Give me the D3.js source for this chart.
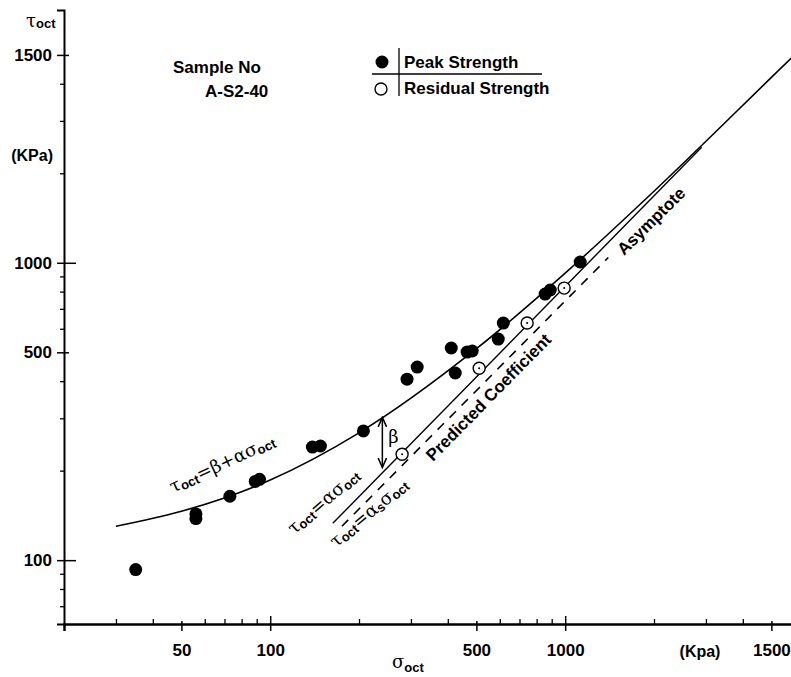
<!DOCTYPE html>
<html>
<head>
<meta charset="utf-8">
<script src="https://cdn.jsdelivr.net/npm/d3@7"></script>
<style>
  body { margin: 0; background: #fff; }
  svg { display: block; }
  text { font-family: "Liberation Sans", Arial, sans-serif; font-weight: bold; fill: #000; }
  .greek { font-family: "DejaVu Serif", serif; font-weight: normal; }
  .axis path, .axis line { stroke: #000; }
</style>
</head>
<body>
<div id="chart"></div>
<script>
// peak strength points (filled)
const peakSigma = [35, 56, 56, 73, 89, 92, 139, 148, 207, 291, 315, 411, 424, 465, 484, 593, 617, 855, 890, 1124];
const peakTau   = [93, 143, 138, 164, 184, 187, 240, 242, 272, 406, 446, 517, 426, 501, 505, 554, 627, 785, 810, 1006];

// residual strength points (open)
const resSigma = [280, 511, 743, 992];
const resTau   = [227, 442, 627, 822];

// fitted curve tau = beta + alpha*sigma
const curveSigma = [30, 50, 100, 200, 500, 1000, 2000, 5000, 5840];
const curveTau   = [130, 146, 186, 268, 514, 923, 1740, 4200, 4880];

// asymptote (solid) and predicted coefficient (dashed)
const asymSigma = [163, 2900];
const asymTau   = [133, 2445];
const predSigma = [175, 1400];
const predTau   = [130, 1042];

// beta arrow
const betaSigma = 240;
const betaTau = [302, 205];

const xMajor = [50, 100, 500, 1000, 5000];
const xMajorLabels = ["50", "100", "500", "1000", "1500"];
const xMinor = [30, 40, 60, 70, 80, 90, 200, 300, 400, 600, 700, 800, 900, 2000, 3000, 4000];
const yMajor = [100, 500, 1000, 5000];
const yMajorLabels = ["100", "500", "1000", "1500"];
const yMinor = [70, 80, 90, 200, 300, 400, 600, 700, 800, 900, 2000, 3000, 4000];

const legendLabels = ["Peak Strength", "Residual Strength"];

const width = 791, height = 677;

const svg = d3.select("#chart").append("svg")
    .attr("width", width)
    .attr("height", height);

let x = d3.scaleLog().domain([20, 6000]).range([64, 64 + Math.log10(300) * 295]);
let y = d3.scaleLog().domain([61, 7080]).range([624, 10]);

const x0 = x(20), y0 = y(61);

// y axis
svg.append("g")
    .attr("class", "axis")
    .attr("transform", `translate(${x0},0)`)
    .call(d3.axisLeft(y).tickValues(yMajor).tickSize(7).tickPadding(5)
        .tickFormat((d, i) => yMajorLabels[i]))
    .call(g => g.select(".domain").attr("stroke-width", 2))
    .call(g => g.selectAll("line").attr("stroke-width", 1.5))
    .call(g => g.selectAll("text").style("font-size", "17px").style("font-family", null));

svg.append("g")
    .attr("class", "axis")
    .attr("transform", `translate(${x0},0)`)
    .call(d3.axisLeft(y).tickValues(yMinor).tickSize(4).tickFormat(""))
    .call(g => g.select(".domain").remove())
    .call(g => g.selectAll("line").attr("stroke-width", 1.3));

svg.append("g")
    .attr("class", "axis")
    .attr("transform", `translate(${x0},0)`)
    .call(d3.axisRight(y).tickValues(yMajor).tickSize(0).tickFormat(""))
    .call(g => g.select(".domain").remove())
    .call(g => g.selectAll("line")
        .attr("x2", d => (d === 100 || d === 1000) ? 12 : 5)
        .attr("stroke-width", 1.5));

// x axis
svg.append("g")
    .attr("class", "axis")
    .attr("transform", `translate(0,${y0})`)
    .call(d3.axisBottom(x).tickValues(xMajor).tickSize(7).tickPadding(13)
        .tickFormat((d, i) => xMajorLabels[i]))
    .call(g => g.select(".domain").attr("stroke-width", 2.5))
    .call(g => g.selectAll("line").attr("stroke-width", 1.5))
    .call(g => g.selectAll("text").style("font-size", "17px").style("font-family", null));

svg.append("g")
    .attr("class", "axis")
    .attr("transform", `translate(0,${y0})`)
    .call(d3.axisTop(x).tickValues(xMinor).tickSize(5).tickFormat(""))
    .call(g => g.select(".domain").remove())
    .call(g => g.selectAll("line").attr("stroke-width", 1.3));

svg.append("g")
    .attr("class", "axis")
    .attr("transform", `translate(0,${y0})`)
    .call(d3.axisTop(x).tickValues(xMajor).tickSize(0).tickFormat(""))
    .call(g => g.select(".domain").remove())
    .call(g => g.selectAll("line")
        .attr("y2", d => (d === 100 || d === 1000) ? -8 : -3)
        .attr("stroke-width", 1.5));

// axis titles
const yt = svg.append("text").attr("x", 26).attr("y", 27);
yt.append("tspan").attr("class", "greek").style("font-size", "18px").text("τ");
yt.append("tspan").style("font-size", "13px").attr("dy", 1).text("oct");

svg.append("text").attr("x", 53).attr("y", 161)
    .attr("text-anchor", "end").style("font-size", "16px").text("(KPa)");

const xt = svg.append("text").attr("x", 392).attr("y", 668);
xt.append("tspan").attr("class", "greek").style("font-size", "18px").text("σ");
xt.append("tspan").style("font-size", "13px").attr("dy", 4).text("oct");

svg.append("text").attr("x", 700).attr("y", 657)
    .attr("text-anchor", "middle").style("font-size", "16px").text("(Kpa)");

// sample annotation
svg.append("text").attr("x", 173).attr("y", 73).style("font-size", "17px").text("Sample No");
svg.append("text").attr("x", 205).attr("y", 97).style("font-size", "17px").text("A-S2-40");

// lines
const line = d3.line()
    .x(d => x(d[0]))
    .y(d => y(d[1]))
    .curve(d3.curveMonotoneX);

svg.append("path")
    .datum(curveSigma.map((s, i) => [s, curveTau[i]]))
    .attr("d", line)
    .attr("fill", "none").attr("stroke", "#000").attr("stroke-width", 1.6);

svg.append("path")
    .datum(asymSigma.map((s, i) => [s, asymTau[i]]))
    .attr("d", line)
    .attr("fill", "none").attr("stroke", "#000").attr("stroke-width", 1.4);

svg.append("path")
    .datum(predSigma.map((s, i) => [s, predTau[i]]))
    .attr("d", line)
    .attr("fill", "none").attr("stroke", "#000").attr("stroke-width", 1.6)
    .attr("stroke-dasharray", "9,8");

// beta arrow
svg.append("defs").append("marker")
    .attr("id", "arr").attr("viewBox", "0 0 10 10").attr("refX", 9).attr("refY", 5)
    .attr("markerWidth", 7).attr("markerHeight", 7).attr("orient", "auto-start-reverse")
    .append("path").attr("d", "M0,1 L9,5 L0,9").attr("fill", "none").attr("stroke", "#000").attr("stroke-width", 1.5);

svg.append("line")
    .attr("x1", x(betaSigma)).attr("x2", x(betaSigma))
    .attr("y1", y(betaTau[0])).attr("y2", y(betaTau[1]))
    .attr("stroke", "#000").attr("stroke-width", 1.5)
    .attr("marker-start", "url(#arr)").attr("marker-end", "url(#arr)");

svg.append("text").attr("class", "greek")
    .attr("x", x(betaSigma) + 6).attr("y", y(260) + 6)
    .style("font-size", "18px").text("β");

// points
svg.selectAll(".peak")
    .data(peakSigma.map((s, i) => [s, peakTau[i]]))
    .enter().append("circle")
    .attr("class", "peak")
    .attr("cx", d => x(d[0])).attr("cy", d => y(d[1]))
    .attr("r", 6.5).attr("fill", "#000");

const res = svg.selectAll(".res")
    .data(resSigma.map((s, i) => [s, resTau[i]]))
    .enter().append("g").attr("class", "res");
res.append("circle")
    .attr("cx", d => x(d[0])).attr("cy", d => y(d[1]))
    .attr("r", 6).attr("fill", "#fff").attr("stroke", "#000").attr("stroke-width", 1.4);
res.append("circle")
    .attr("cx", d => x(d[0])).attr("cy", d => y(d[1]))
    .attr("r", 1).attr("fill", "#000");

// rotated labels
function rotLabel(px, py, ang, parts) {
    const t = svg.append("text").attr("transform", `translate(${px},${py}) rotate(${ang})`);
    parts.forEach(p => {
        const s = t.append("tspan").text(p.t);
        if (p.g) s.attr("class", "greek").style("font-size", "18px");
        else s.style("font-size", p.sub ? "13px" : "17px");
        if (p.dy) s.attr("dy", p.dy);
    });
    return t;
}

rotLabel(173, 493, -25, [
    {t: "τ", g: true}, {t: "oct", sub: true, dy: 2}, {t: "=β+ασ", g: true, dy: -2}, {t: "oct", sub: true, dy: 2}
]);
rotLabel(294, 535, -41, [
    {t: "τ", g: true}, {t: "oct", sub: true, dy: 2}, {t: "=ασ", g: true, dy: -2}, {t: "oct", sub: true, dy: 2}
]);
rotLabel(336, 548, -40, [
    {t: "τ", g: true}, {t: "oct", sub: true, dy: 2}, {t: "=α", g: true, dy: -2}, {t: "s", sub: true, dy: 2},
    {t: "σ", g: true, dy: -2}, {t: "oct", sub: true, dy: 2}
]);
rotLabel(433, 462, -45.5, [{t: "Predicted Coefficient"}]);
rotLabel(624, 256, -44.6, [{t: "Asymptote"}]);

// legend
const lg = svg.append("g");
lg.append("line").attr("x1", 372).attr("x2", 542).attr("y1", 74).attr("y2", 74)
    .attr("stroke", "#000").attr("stroke-width", 1.3);
lg.append("line").attr("x1", 399).attr("x2", 399).attr("y1", 48).attr("y2", 96)
    .attr("stroke", "#000").attr("stroke-width", 1.3);
lg.append("circle").attr("cx", 382).attr("cy", 62).attr("r", 6.5).attr("fill", "#000");
lg.append("circle").attr("cx", 381).attr("cy", 89).attr("r", 6)
    .attr("fill", "#fff").attr("stroke", "#000").attr("stroke-width", 1.4);
lg.selectAll(".lt").data(legendLabels).enter().append("text")
    .attr("x", 404).attr("y", (d, i) => i === 0 ? 68 : 94)
    .style("font-size", "17px").text(d => d);
</script>
</body>
</html>
